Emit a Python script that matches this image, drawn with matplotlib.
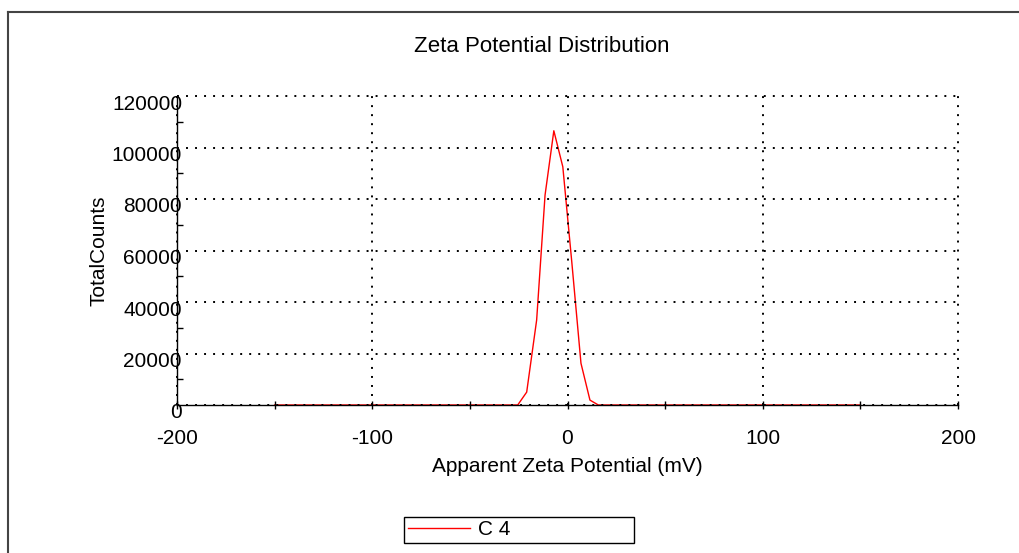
import matplotlib
matplotlib.use("Agg")
import matplotlib.pyplot as plt
import matplotlib.transforms as mtransforms
from matplotlib.lines import Line2D
from matplotlib.ticker import MultipleLocator

plt.rcParams['font.family'] = ['Liberation Sans', 'DejaVu Sans']
plt.rcParams['axes.unicode_minus'] = False
plt.rcParams['lines.scale_dashes'] = False

# --- data ---
zeta_mv = [-150, -25.5, -20.9, -15.8, -11.5, -7.0, -2.4, 2.2, 6.9, 11.5, 15.8, 150]
total_counts = [0, 0, 5000, 33000, 81500, 106500, 92500, 55500, 16200, 1900, 0, 0]
series_name = "C 4"

x_ticks = [-200, -100, 0, 100, 200]
y_ticks = [0, 20000, 40000, 60000, 80000, 100000, 120000]

W, H = 1019, 553
fig = plt.figure(figsize=(W / 100, H / 100), dpi=100)
ax = fig.add_axes([177 / W, 1 - 405 / H, (958 - 177) / W, (405 - 96) / H])

ax.plot(zeta_mv, total_counts, color='#ff0000', lw=1.0, label=series_name, clip_on=False)

ax.set_xlim(-200, 200)
ax.set_ylim(0, 120000)
ax.set_xticks(x_ticks)
ax.set_yticks(y_ticks)
ax.xaxis.set_minor_locator(MultipleLocator(50))
ax.yaxis.set_minor_locator(MultipleLocator(10000))

# dotted grid, one dot every ~9 px
ax.grid(True, which='major', color='black', lw=1.4, linestyle=(0, (1.4, 5.1)))
ax.set_axisbelow(False)
for gl in ax.get_xgridlines() + ax.get_ygridlines():
    gl.set_clip_on(False)

for s in ['top', 'right']:
    ax.spines[s].set_visible(False)
for s in ['left', 'bottom']:
    ax.spines[s].set_color('black')
    ax.spines[s].set_linewidth(1.0)

ax.tick_params(axis='x', which='both', direction='inout', length=6, width=1,
               labelsize=15, pad=14)
ax.tick_params(axis='y', which='major', length=0, labelsize=15, pad=-3.6)
ax.tick_params(axis='y', which='minor', direction='in', length=4, width=1)

# y labels sit a little below their grid line in the reference
off = mtransforms.ScaledTranslation(0, -6 / 100, fig.dpi_scale_trans)
for t in ax.yaxis.get_major_ticks():
    t.label1.set_transform(t.label1.get_transform() + off)

ax.set_xlabel("Apparent Zeta Potential (mV)", fontsize=15, labelpad=7)
ax.set_ylabel("TotalCounts", fontsize=15, labelpad=2)
fig.text(542 / W, 1 - 46 / H, "Zeta Potential Distribution", fontsize=16,
         ha='center', va='center')

# legend box under the plot
leg = fig.legend(loc='lower left', bbox_to_anchor=(404 / W, 1 - 543 / H, 230 / W, 26 / H),
                 bbox_transform=fig.transFigure, mode='expand', fontsize=15,
                 handlelength=3.0, handletextpad=0.4, borderpad=0.17, borderaxespad=0,
                 fancybox=False, framealpha=1, edgecolor='black')
leg.get_frame().set_linewidth(1.0)

# outer frame, cut by the image edges
fig.add_artist(Line2D([8 / W, 1.0], [1 - 12 / H, 1 - 12 / H], color='#444444', lw=1.5,
                      transform=fig.transFigure))
fig.add_artist(Line2D([8 / W, 8 / W], [1 - 12 / H, 0.0], color='#444444', lw=1.5,
                      transform=fig.transFigure))

fig.savefig("out.png", dpi=100)
